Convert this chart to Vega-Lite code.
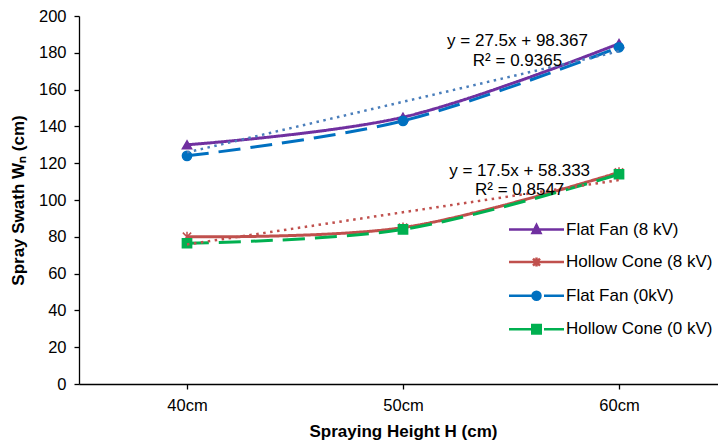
{
  "$schema": "https://vega.github.io/schema/vega-lite/v6.json",
  "width": 648,
  "height": 368,
  "autosize": {"type": "none"},
  "padding": {"left": 79, "top": 16, "right": 0, "bottom": 60},
  "background": "white",
  "config": {
    "view": {"stroke": null},
    "font": "Liberation Sans",
    "axis": {
      "domainColor": "#000000",
      "domainWidth": 1.3,
      "tickColor": "#000000",
      "tickWidth": 1.3,
      "tickSize": 5,
      "labelColor": "#000000",
      "labelFontSize": 16.5,
      "labelFont": "Liberation Sans",
      "titleColor": "#000000",
      "titleFontSize": 17,
      "titleFont": "Liberation Sans",
      "titleFontWeight": "bold",
      "grid": false
    }
  },
  "datasets": {
    "main": [
      {"series": "Flat Fan (8 kV)", "h": 40, "w": 130},
      {"series": "Flat Fan (8 kV)", "h": 50, "w": 145},
      {"series": "Flat Fan (8 kV)", "h": 60, "w": 185},
      {"series": "Hollow Cone (8 kV)", "h": 40, "w": 80},
      {"series": "Hollow Cone (8 kV)", "h": 50, "w": 85},
      {"series": "Hollow Cone (8 kV)", "h": 60, "w": 115},
      {"series": "Flat Fan (0kV)", "h": 40, "w": 124},
      {"series": "Flat Fan (0kV)", "h": 50, "w": 143},
      {"series": "Flat Fan (0kV)", "h": 60, "w": 183},
      {"series": "Hollow Cone (0 kV)", "h": 40, "w": 76.5},
      {"series": "Hollow Cone (0 kV)", "h": 50, "w": 84},
      {"series": "Hollow Cone (0 kV)", "h": 60, "w": 114}
    ],
    "trend": [
      {"t": "FF8", "h": 40, "w": 125.867},
      {"t": "FF8", "h": 60, "w": 180.867},
      {"t": "HC8", "h": 40, "w": 75.833},
      {"t": "HC8", "h": 60, "w": 110.833}
    ],
    "notes": [
      {"h": 55.3, "w": 186.5, "label": "y = 27.5x + 98.367"},
      {"h": 55.3, "w": 175.5, "label": "R² = 0.9365"},
      {"h": 55.4, "w": 116, "label": "y = 17.5x + 58.333"},
      {"h": 55.4, "w": 105.5, "label": "R² = 0.8547"}
    ]
  },
  "encoding": {
    "x": {
      "field": "h",
      "type": "quantitative",
      "scale": {"domain": [35, 65], "nice": false, "zero": false},
      "axis": {
        "values": [40, 50, 60],
        "labelExpr": "datum.value + 'cm'",
        "title": "Spraying Height H (cm)",
        "labelPadding": 8,
        "titlePadding": 10
      }
    },
    "y": {
      "field": "w",
      "type": "quantitative",
      "scale": {"domain": [0, 200], "nice": false},
      "axis": {
        "values": [0, 20, 40, 60, 80, 100, 120, 140, 160, 180, 200],
        "title": "Spray Swath Wₙ (cm)",
        "labelPadding": 8,
        "titlePadding": 11
      }
    }
  },
  "layer": [
    {
      "data": {"name": "main"},
      "mark": {"type": "line", "interpolate": "catmull-rom", "strokeWidth": 3},
      "encoding": {
        "color": {
          "field": "series", "type": "nominal",
          "scale": {"domain": ["Flat Fan (8 kV)", "Hollow Cone (8 kV)", "Flat Fan (0kV)", "Hollow Cone (0 kV)"], "range": ["#7030A0", "#C0504D", "#0070C0", "#00B050"]},
          "legend": null
        },
        "strokeDash": {
          "field": "series", "type": "nominal",
          "scale": {"domain": ["Flat Fan (8 kV)", "Hollow Cone (8 kV)", "Flat Fan (0kV)", "Hollow Cone (0 kV)"], "range": [[1, 0], [1, 0], [22, 10], [22, 10]]},
          "legend": null
        }
      }
    },
    {
      "data": {"name": "main"},
      "mark": {"type": "point", "filled": true, "strokeWidth": 1.5, "opacity": 1, "size": 85},
      "encoding": {
        "fill": {
          "field": "series", "type": "nominal",
          "scale": {"domain": ["Flat Fan (8 kV)", "Hollow Cone (8 kV)", "Flat Fan (0kV)", "Hollow Cone (0 kV)"], "range": ["#7030A0", "#C0504D", "#0070C0", "#00B050"]},
          "legend": null
        },
        "stroke": {
          "field": "series", "type": "nominal",
          "scale": {"domain": ["Flat Fan (8 kV)", "Hollow Cone (8 kV)", "Flat Fan (0kV)", "Hollow Cone (0 kV)"], "range": ["#7030A0", "#C0504D", "#0070C0", "#00B050"]},
          "legend": null
        },
        "shape": {
          "field": "series", "type": "nominal",
          "scale": {"domain": ["Flat Fan (8 kV)", "Hollow Cone (8 kV)", "Flat Fan (0kV)", "Hollow Cone (0 kV)"], "range": ["triangle-up", "M-0.9,-0.9L0.9,0.9M-0.9,0.9L0.9,-0.9M0,-1.1L0,1.1", "circle", "square"]},
          "legend": null
        }
      }
    },
    {
      "data": {"name": "trend"},
      "mark": {"type": "line", "strokeWidth": 2.5, "strokeDash": [2.5, 4.5]},
      "encoding": {
        "color": {
          "field": "t", "type": "nominal",
          "scale": {"domain": ["FF8", "HC8"], "range": ["#4A7EBB", "#C0504D"]},
          "legend": null
        }
      }
    },
    {
      "data": {"name": "main"},
      "mark": {"type": "point", "filled": true, "opacity": 0},
      "encoding": {
        "fill": {
          "field": "series", "type": "nominal",
          "scale": {"domain": ["Flat Fan (8 kV)", "Hollow Cone (8 kV)", "Flat Fan (0kV)", "Hollow Cone (0 kV)"], "range": ["#7030A0", "#C0504D", "#0070C0", "#00B050"]},
          "legend": {"title": null, "orient": "none", "legendX": 449, "legendY": 205, "padding": 0, "symbolOpacity": 1, "symbolStrokeWidth": 2.5, "symbolSize": 100, "labelFontSize": 17, "labelColor": "#000000", "labelOffset": 21, "rowPadding": 14.6, "labelLimit": 300}
        },
        "stroke": {
          "field": "series", "type": "nominal",
          "scale": {"domain": ["Flat Fan (8 kV)", "Hollow Cone (8 kV)", "Flat Fan (0kV)", "Hollow Cone (0 kV)"], "range": ["#7030A0", "#C0504D", "#0070C0", "#00B050"]},
          "legend": {"title": null, "orient": "none", "legendX": 449, "legendY": 205, "padding": 0, "symbolOpacity": 1, "symbolStrokeWidth": 2.5, "symbolSize": 100, "labelFontSize": 17, "labelColor": "#000000", "labelOffset": 21, "rowPadding": 14.6, "labelLimit": 300}
        },
        "shape": {
          "field": "series", "type": "nominal",
          "scale": {"domain": ["Flat Fan (8 kV)", "Hollow Cone (8 kV)", "Flat Fan (0kV)", "Hollow Cone (0 kV)"], "range": [
            "M-5.5,0H5.5M-0.8,0.7L0,-0.9L0.8,0.7Z",
            "M-5.5,0H5.5M-0.7,-0.7L0.7,0.7M-0.7,0.7L0.7,-0.7M0,-0.9L0,0.9",
            "M-5.5,0H-0.7M1.5,0H5.5M0.8,0A0.8,0.8,0,1,1,-0.8,0A0.8,0.8,0,1,1,0.8,0Z",
            "M-5.5,0H-0.8M1.5,0H5.5M-0.85,-0.85H0.85V0.85H-0.85Z"
          ]},
          "legend": {"title": null, "orient": "none", "legendX": 449, "legendY": 205, "padding": 0, "symbolOpacity": 1, "symbolStrokeWidth": 2.5, "symbolSize": 100, "labelFontSize": 17, "labelColor": "#000000", "labelOffset": 21, "rowPadding": 14.6, "labelLimit": 300}
        }
      }
    },
    {
      "data": {"name": "notes"},
      "mark": {"type": "text", "fontSize": 17, "color": "#000000", "align": "center", "baseline": "middle", "font": "Liberation Sans"},
      "encoding": {
        "text": {"field": "label", "type": "nominal"}
      }
    }
  ],
  "resolve": {
    "scale": {"color": "independent", "shape": "independent", "fill": "independent", "stroke": "independent", "strokeDash": "independent"}
  }
}
